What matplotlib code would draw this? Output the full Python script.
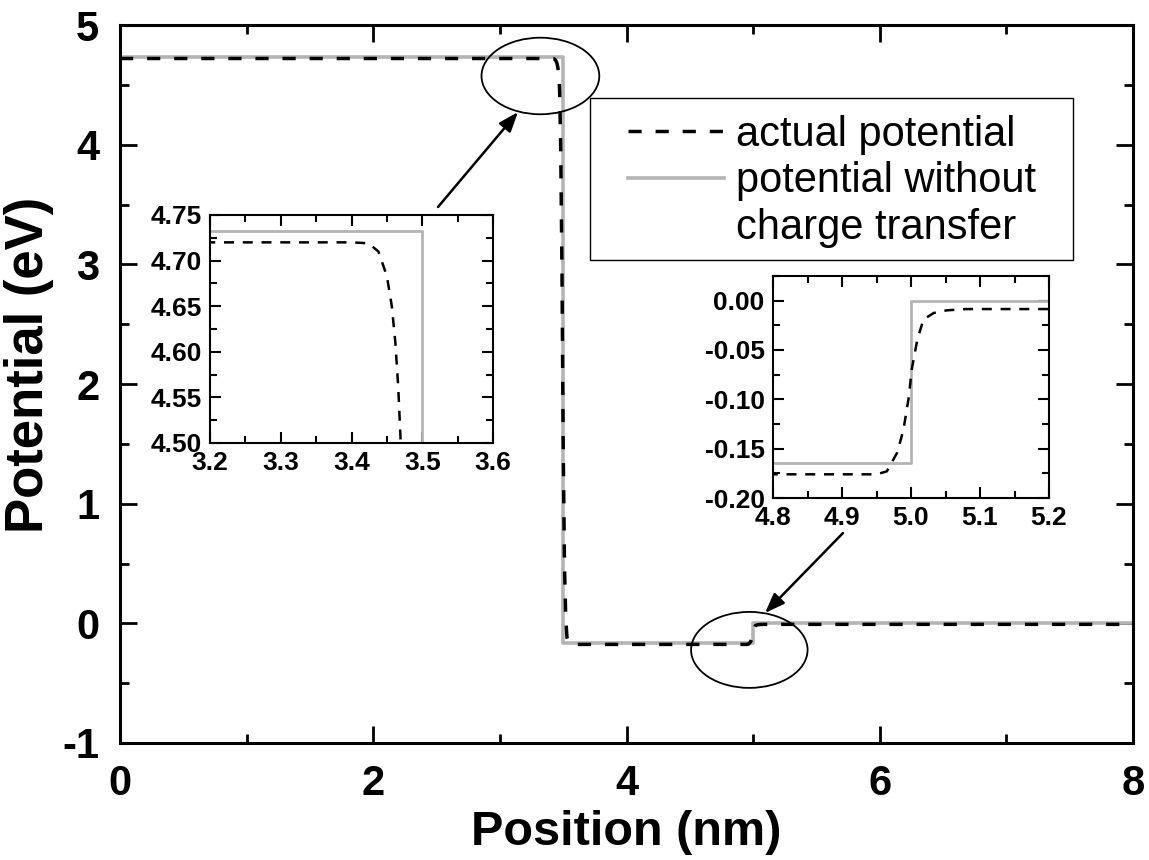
import numpy as np
import matplotlib.pyplot as plt
from matplotlib.patches import Ellipse, Rectangle
from matplotlib.lines import Line2D
from matplotlib.ticker import MultipleLocator

plt.rcParams['font.family'] = ['Liberation Sans', 'DejaVu Sans']
plt.rcParams['axes.unicode_minus'] = False

# potential profiles (nm, eV)
actual_x = [0.0, 3.40, 3.424, 3.438, 3.450, 3.457, 3.462, 3.466, 3.469, 3.472,
            3.48, 3.49, 3.50, 3.51, 3.52, 3.53, 3.55, 3.58,
            4.95, 4.965, 4.980, 4.989, 4.997, 5.001, 5.009, 5.018, 5.033, 5.052, 5.08, 8.0]
actual_y = [4.720, 4.720, 4.719, 4.710, 4.683, 4.650, 4.610, 4.562, 4.511, 4.45,
            4.0, 3.0, 1.5, 0.5, 0.05, -0.12, -0.170, -0.176,
            -0.176, -0.173, -0.154, -0.131, -0.097, -0.070, -0.040, -0.019, -0.0125, -0.0098, -0.0085, -0.0085]
nocharge_x = [0.0, 3.5, 3.5, 5.0, 5.0, 8.0]
nocharge_y = [4.733, 4.733, -0.165, -0.165, 0.0, 0.0]

gray = '#b4b4b4'
W, H = 1149, 860
fig = plt.figure(figsize=(W / 100, H / 100), dpi=100)

def px_axes(l, t, r, b):
    return fig.add_axes([l / W, 1 - b / H, (r - l) / W, (b - t) / H])

ax = px_axes(120, 25, 1133, 743)
ax.plot(nocharge_x, nocharge_y, color=gray, lw=2.6, zorder=2)
ax.plot(actual_x, actual_y, color='black', lw=2.5, dashes=(3.8, 4.0), zorder=3)
ax.set_xlim(0, 8)
ax.set_ylim(-1, 5)
ax.xaxis.set_major_locator(MultipleLocator(2))
ax.xaxis.set_minor_locator(MultipleLocator(1))
ax.yaxis.set_major_locator(MultipleLocator(1))
ax.yaxis.set_minor_locator(MultipleLocator(0.5))
ax.tick_params(which='both', direction='in', top=True, right=True, width=2)
ax.tick_params(which='major', length=12, labelsize=30, pad=15)
ax.tick_params(which='minor', length=6.5)
for lab in ax.get_xticklabels() + ax.get_yticklabels():
    lab.set_fontweight('bold')
for s in ax.spines.values():
    s.set_linewidth(2.2)
ax.set_xlabel('Position (nm)', fontsize=35, fontweight='bold')
ax.set_ylabel('Potential (eV)', fontsize=38, fontweight='bold')
ax.xaxis.set_label_coords(0.5, -(810 - 743) / 718)
ax.yaxis.set_label_coords(-(120 - 54) / 1013, (743 - 365) / 718)

# circles marking the zoomed regions
ax.add_patch(Ellipse((3.32, 4.574), 0.93, 0.64, fill=False, lw=1.3, ec='black', zorder=5))
ax.add_patch(Ellipse((4.97, -0.222), 0.92, 0.635, fill=False, lw=1.3, ec='black', zorder=5))

# legend (box drawn separately)
handles = [Line2D([], [], color='black', lw=2.5, dashes=(3.8, 4.0)),
           Line2D([], [], color=gray, lw=2.6),
           Line2D([], [], color='none')]
labels = ['actual potential', 'potential without', 'charge transfer']
leg = ax.legend(handles, labels, loc='upper left', bbox_to_anchor=(628 / W, 1 - 115 / H),
                bbox_transform=fig.transFigure, fontsize=30, frameon=False,
                handlelength=2.3, handletextpad=0.3,
                labelspacing=0.15, borderpad=0, borderaxespad=0)
fig.add_artist(Rectangle((590 / W, 1 - 260 / H), (1073 - 590) / W, (260 - 98) / H,
                         transform=fig.transFigure, fill=False, ec='black', lw=1.0))

def style_inset(a):
    a.tick_params(which='both', direction='in', top=True, right=True, width=1.5)
    a.tick_params(which='major', length=8, labelsize=19, pad=6)
    a.tick_params(which='minor', length=5)
    for lab in a.get_xticklabels() + a.get_yticklabels():
        lab.set_fontweight('bold')
    for s in a.spines.values():
        s.set_linewidth(1.5)

# inset: drop near 3.5 nm
ia = px_axes(210, 215, 493, 443)
ia.plot(nocharge_x, nocharge_y, color=gray, lw=2.0)
ia.plot(actual_x, actual_y, color='black', lw=1.8, dashes=(4, 3.5))
ia.set_xlim(3.2, 3.6)
ia.set_ylim(4.50, 4.75)
ia.xaxis.set_major_locator(MultipleLocator(0.1))
ia.xaxis.set_minor_locator(MultipleLocator(0.05))
ia.yaxis.set_major_locator(MultipleLocator(0.05))
ia.yaxis.set_minor_locator(MultipleLocator(0.025))
ia.xaxis.set_major_formatter('{x:.1f}')
ia.yaxis.set_major_formatter('{x:.2f}')
style_inset(ia)

# inset: step near 5.0 nm
ib = px_axes(773, 276, 1049, 498)
ib.plot(nocharge_x, nocharge_y, color=gray, lw=2.0)
ib.plot(actual_x, actual_y, color='black', lw=1.8, dashes=(4, 3.5))
ib.set_xlim(4.8, 5.2)
ib.set_ylim(-0.20, 0.025)
ib.xaxis.set_major_locator(MultipleLocator(0.1))
ib.xaxis.set_minor_locator(MultipleLocator(0.05))
ib.yaxis.set_major_locator(MultipleLocator(0.05))
ib.yaxis.set_minor_locator(MultipleLocator(0.025))
ib.xaxis.set_major_formatter('{x:.1f}')
ib.yaxis.set_major_formatter('{x:.2f}')
style_inset(ib)

# arrows from insets to circles
arrow = dict(arrowstyle='-|>,head_length=1.2,head_width=0.45', color='black', lw=1.8,
             shrinkA=0, shrinkB=0)
fig.add_artist(plt.Annotation('', xy=(518, H - 112), xytext=(438, H - 207),
                              xycoords='figure pixels', textcoords='figure pixels',
                              arrowprops=arrow))
fig.add_artist(plt.Annotation('', xy=(765, H - 613), xytext=(843, H - 533),
                              xycoords='figure pixels', textcoords='figure pixels',
                              arrowprops=arrow))

fig.savefig('out.png', dpi=100)
